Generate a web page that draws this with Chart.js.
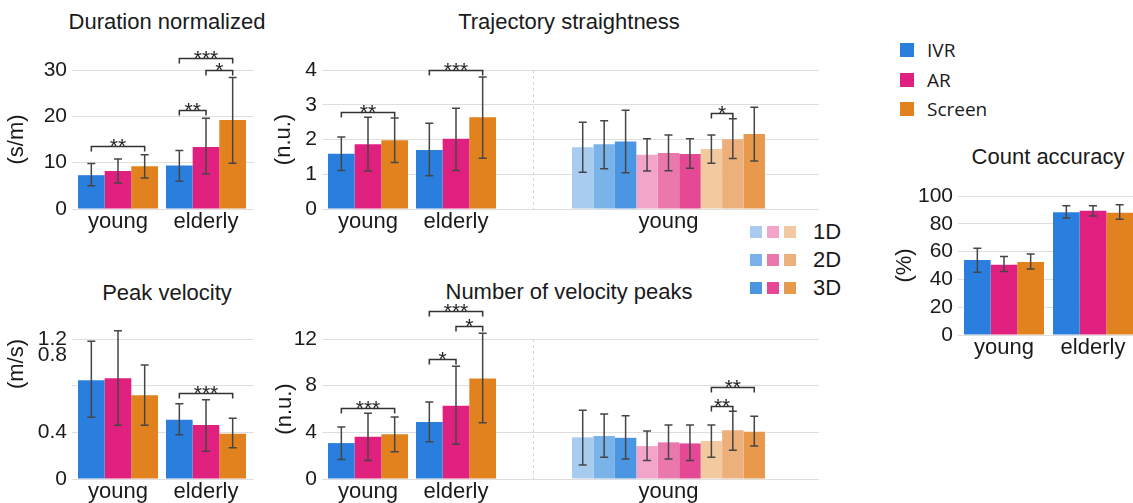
<!DOCTYPE html>
<html lang="en">
<head>
<meta charset="UTF-8">
<title>Movement metrics</title>
<script src="https://cdn.jsdelivr.net/npm/chart.js"></script>
<style>
  body { margin: 0; width: 1133px; height: 503px; overflow: hidden; background: #fff; position: relative;
         font-family: "Liberation Sans", Arial, sans-serif; color: #1a1a1a; }
  .box { position: absolute; }
  .title { position: absolute; font-size: 22px; transform: translate(-50%, -50%); white-space: nowrap; }
  .leg { position: absolute; font-family: "Open Sans", sans-serif; font-size: 19px; line-height: 26px; }
  .leg2 { position: absolute; font-size: 22px; line-height: 26px; }
  .sw { position: absolute; }
</style>
</head>
<body>

<div class="title" style="left:167px;top:22px">Duration normalized</div>
<div class="title" style="left:569px;top:22px">Trajectory straightness</div>
<div class="title" style="left:1048px;top:157px">Count accuracy</div>
<div class="title" style="left:167px;top:293px">Peak velocity</div>
<div class="title" style="left:569px;top:292px">Number of velocity peaks</div>

<div id="legend1"></div>
<div id="legend2"></div>

<div class="box" id="c1"><canvas></canvas></div>
<div class="box" id="c2a"><canvas></canvas></div>
<div class="box" id="c2b"><canvas></canvas></div>
<div class="box" id="c3"><canvas></canvas></div>
<div class="box" id="c4"><canvas></canvas></div>
<div class="box" id="c5a"><canvas></canvas></div>
<div class="box" id="c5b"><canvas></canvas></div>

<script>
const groups = ['young', 'elderly'];
const conditions = ['IVR', 'AR', 'Screen'];
const dimLabels = ['1D', '2D', '3D'];

const condColors = ['#2a7fde', '#e0207f', '#e2821f'];
const dimColors = [
    ['#a8ccf0', '#7ab2ea', '#4b96e3'],
    ['#f2a5c8', '#eb78ad', '#e54894'],
    ['#f3c9a0', '#edb07b', '#e8994c']
];

// rows: IVR, AR, Screen / columns: young, elderly
const durMean = [[7.3, 9.4], [8.2, 13.4], [9.2, 19.2]];
const durLow = [[5.0, 6.0], [5.6, 7.6], [6.7, 9.9]];
const durHigh = [[9.8, 12.6], [10.8, 19.6], [11.7, 28.4]];
// [from, to, group, height, stars]
const durSig = [[0, 2, 0, 13.7, '**'], [0, 1, 1, 21.4, '**'], [0, 2, 1, 32.5, '***'], [1, 2, 1, 30, '*']];

const trajMean = [[1.59, 1.70], [1.86, 2.02], [1.98, 2.64]];
const trajLow = [[1.11, 0.96], [1.09, 1.11], [1.34, 1.46]];
const trajHigh = [[2.07, 2.47], [2.64, 2.90], [2.62, 3.80]];
const trajSig = [[0, 2, 0, 2.80, '**'], [0, 2, 1, 4.0, '***']];

// young only, IVR 1D/2D/3D, AR 1D/2D/3D, Screen 1D/2D/3D
const trajDimMean = [1.78, 1.86, 1.94, 1.56, 1.61, 1.58, 1.73, 2.01, 2.16];
const trajDimLow = [1.06, 1.16, 1.04, 1.09, 1.10, 1.17, 1.32, 1.45, 1.38];
const trajDimHigh = [2.50, 2.54, 2.84, 2.02, 2.13, 2.02, 2.13, 2.60, 2.93];
const trajDimSig = [[6, 7, 0, 2.77, '*']];

const accMean = [[53.9, 88.3], [50.6, 89.4], [52.6, 88.0]];
const accLow = [[45.1, 84.1], [45.6, 85.6], [47.4, 83.2]];
const accHigh = [[62.4, 93.0], [56.4, 93.0], [58.2, 93.7]];

const velMean = [[0.846, 0.508], [0.863, 0.463], [0.717, 0.388]];
const velLow = [[0.53, 0.38], [0.46, 0.237], [0.46, 0.268]];
const velHigh = [[1.18, 0.645], [1.27, 0.68], [0.977, 0.52]];
const velSig = [[0, 2, 1, 0.734, '***']];

const pkMean = [[3.08, 4.89], [3.62, 6.27], [3.83, 8.62]];
const pkLow = [[1.67, 3.19], [1.59, 2.97], [2.33, 4.83]];
const pkHigh = [[4.46, 6.59], [5.64, 9.66], [5.32, 12.5]];
const pkSig = [[0, 2, 0, 6.09, '***'], [0, 1, 1, 10.3, '*'], [0, 2, 1, 14.4, '***'], [1, 2, 1, 13.1, '*']];

const pkDimMean = [3.57, 3.68, 3.53, 2.82, 3.14, 3.05, 3.25, 4.17, 4.05];
const pkDimLow = [1.21, 1.87, 1.72, 1.59, 1.72, 1.59, 1.87, 2.47, 2.82];
const pkDimHigh = [5.9, 5.58, 5.43, 4.11, 4.63, 4.63, 4.63, 5.81, 5.38];
const pkDimSig = [[6, 7, 0, 6.24, '**'], [6, 8, 0, 7.88, '**']];

Chart.defaults.font.family = '"Liberation Sans", Arial, sans-serif';
Chart.defaults.color = '#1a1a1a';

const XH = 24;  // x axis height

// legends
const leg1 = document.getElementById('legend1');
conditions.forEach((c, i) => {
    const cy = [50, 80, 109][i];
    leg1.innerHTML += `<div class="sw" style="left:900px;top:${cy - 7}px;width:14px;height:14px;background:${condColors[i]}"></div>` +
        `<div class="leg" style="left:927px;top:${cy - 13}px">${c}</div>`;
});
const leg2 = document.getElementById('legend2');
dimLabels.forEach((d, k) => {
    const cy = [232, 260, 288][k];
    [750, 767, 784].forEach((x, i) => {
        leg2.innerHTML += `<div class="sw" style="left:${x}px;top:${cy - 6}px;width:12px;height:12px;background:${dimColors[i][k]}"></div>`;
    });
    leg2.innerHTML += `<div class="leg2" style="left:813px;top:${cy - 13}px">${d}</div>`;
});

// error bars from dataset.lo / dataset.hi
const errorBars = {
    id: 'errorBars',
    afterDatasetsDraw(chart) {
        const ctx = chart.ctx, y = chart.scales.y;
        ctx.save();
        ctx.strokeStyle = '#454545';
        ctx.lineWidth = 1.5;
        chart.data.datasets.forEach((ds, i) => {
            chart.getDatasetMeta(i).data.forEach((bar, j) => {
                const lo = y.getPixelForValue(ds.lo[j]);
                const hi = y.getPixelForValue(ds.hi[j]);
                ctx.beginPath();
                ctx.moveTo(bar.x, lo); ctx.lineTo(bar.x, hi);
                ctx.moveTo(bar.x - 4, lo); ctx.lineTo(bar.x + 4, lo);
                ctx.moveTo(bar.x - 4, hi); ctx.lineTo(bar.x + 4, hi);
                ctx.stroke();
            });
        });
        ctx.restore();
    }
};

// significance brackets
function brackets(list) {
    return {
        id: 'brackets',
        afterDatasetsDraw(chart) {
            const ctx = chart.ctx, y = chart.scales.y;
            ctx.save();
            ctx.strokeStyle = '#333';
            ctx.lineWidth = 1.5;
            ctx.fillStyle = '#222';
            ctx.font = '21px "Liberation Sans", Arial, sans-serif';
            ctx.textAlign = 'center';
            ctx.textBaseline = 'alphabetic';
            list.forEach(([a, b, g, v, stars]) => {
                const x1 = chart.getDatasetMeta(a).data[g].x;
                const x2 = chart.getDatasetMeta(b).data[g].x;
                const py = Math.round(y.getPixelForValue(v)) + 0.5;
                ctx.beginPath();
                ctx.moveTo(x1, py + 5); ctx.lineTo(x1, py); ctx.lineTo(x2, py); ctx.lineTo(x2, py + 5);
                ctx.stroke();
                ctx.fillText(stars, (x1 + x2) / 2, py + 6);
            });
            ctx.restore();
        }
    };
}

// dashed separator on the left edge of the 1D/2D/3D sub-plots
const separator = {
    id: 'separator',
    beforeDatasetsDraw(chart) {
        const {ctx, chartArea: a} = chart;
        ctx.save();
        ctx.strokeStyle = '#d4d4d4';
        ctx.lineWidth = 1;
        ctx.setLineDash([3, 3]);
        ctx.beginPath();
        ctx.moveTo(a.left + 0.5, a.top);
        ctx.lineTo(a.left + 0.5, a.bottom);
        ctx.stroke();
        ctx.restore();
    }
};

function condSets(mean, low, high) {
    return conditions.map((c, i) => ({
        label: c,
        data: groups.map((g, k) => ({x: k, y: mean[i][k]})),
        lo: low[i], hi: high[i],
        backgroundColor: condColors[i]
    }));
}

function dimSets(mean, low, high) {
    return mean.map((m, i) => ({
        label: conditions[Math.floor(i / 3)] + ' ' + dimLabels[i % 3],
        data: [{x: 0, y: m}],
        lo: [low[i]], hi: [high[i]],
        backgroundColor: dimColors[Math.floor(i / 3)][i % 3]
    }));
}

// box = canvas [x, y, w, h]; area = plot [left, top, right, bottom]; yw = y axis width
function barChart(id, box, area, yw, datasets, cfg) {
    const d = document.getElementById(id);
    d.style.left = box[0] + 'px';
    d.style.top = box[1] + 'px';
    d.style.width = box[2] + 'px';
    d.style.height = box[3] + 'px';

    const xmin = -(cfg.firstCenter - area[0]) / cfg.unit;
    datasets.forEach(ds => {
        ds.categoryPercentage = cfg.groupW / cfg.unit;
        ds.barPercentage = 1;
        ds.borderWidth = 0;
    });
    const showY = yw > 0;
    const extra = [errorBars, brackets(cfg.sig || [])];
    if (!showY) extra.push(separator);

    return new Chart(d.querySelector('canvas'), {
        type: 'bar',
        data: {datasets},
        options: {
            responsive: true,
            maintainAspectRatio: false,
            animation: false,
            layout: {
                padding: {
                    left: area[0] - box[0] - yw,
                    top: area[1] - box[1],
                    right: box[0] + box[2] - area[2],
                    bottom: box[1] + box[3] - area[3] - XH
                }
            },
            plugins: {legend: {display: false}, tooltip: {enabled: false}},
            scales: {
                x: {
                    type: 'linear',
                    offset: false,
                    min: xmin,
                    max: xmin + (area[2] - area[0]) / cfg.unit,
                    grid: {display: false, drawTicks: false},
                    border: {display: false},
                    afterBuildTicks: a => { a.ticks = cfg.labels.map((l, k) => ({value: k})); },
                    afterFit: a => { a.height = XH; a.paddingLeft = 0; a.paddingRight = 0; },
                    ticks: {
                        callback: v => cfg.labels[v],
                        font: {size: 22},
                        padding: 0,
                        maxRotation: 0,
                        autoSkip: false
                    }
                },
                y: {
                    min: cfg.ymin,
                    max: cfg.ymax,
                    grid: {color: '#dedede', drawTicks: showY, tickLength: 6},
                    border: {display: false},
                    ticks: {
                        display: showY,
                        stepSize: cfg.step,
                        padding: 5,
                        autoSkip: false,
                        font: {size: 21, lineHeight: 0.75},
                        callback: cfg.tickCb || (v => v)
                    },
                    title: {
                        display: !!cfg.ytitle,
                        text: cfg.ytitle,
                        align: cfg.yalign || 'center',
                        font: {size: 22},
                        padding: {top: 4, bottom: 0}
                    },
                    afterFit: a => { a.width = yw; a.paddingTop = 0; a.paddingBottom = 0; }
                }
            }
        },
        plugins: extra
    });
}

const leftCfg = {unit: 88, groupW: 80, labels: groups};
const rightCfg = {unit: 286, groupW: 193, labels: ['young'], firstCenter: 668.5};

// Duration normalized
barChart('c1', [0, 30, 262, 207], [78, 70, 254, 209], 78, condSets(durMean, durLow, durHigh),
    {...leftCfg, firstCenter: 118, ymin: 0, ymax: 30, step: 10, ytitle: '(s/m)', sig: durSig});

// Trajectory straightness
barChart('c2a', [267, 30, 266, 207], [328, 70, 533, 209], 61, condSets(trajMean, trajLow, trajHigh),
    {...leftCfg, firstCenter: 368, ymin: 0, ymax: 4, step: 1, ytitle: '(n.u.)', sig: trajSig});
barChart('c2b', [533, 30, 292, 207], [533, 70, 819, 209], 0, dimSets(trajDimMean, trajDimLow, trajDimHigh),
    {...rightCfg, ymin: 0, ymax: 4, step: 1, sig: trajDimSig});

// Count accuracy
barChart('c3', [888, 180, 245, 183], [964, 196, 1133, 335], 76, condSets(accMean, accLow, accHigh),
    {unit: 89, groupW: 80, labels: groups, firstCenter: 1004, ymin: 0, ymax: 100, step: 20, ytitle: '(%)'});

// Peak velocity (the 0.8 label sits just under 1.2, as in the source figure)
barChart('c4', [0, 300, 262, 207], [78, 339, 254, 479], 78, condSets(velMean, velLow, velHigh),
    {...leftCfg, firstCenter: 118, ymin: 0, ymax: 1.2, step: 0.4, ytitle: '(m/s)', yalign: 'end', sig: velSig,
     tickCb: v => Math.abs(v - 1.2) < 1e-6 ? ['', '1.2', '0.8'] : (Math.abs(v - 0.8) < 1e-6 ? '' : +v.toFixed(1))});

// Number of velocity peaks
barChart('c5a', [268, 290, 265, 217], [328, 339, 533, 479], 60, condSets(pkMean, pkLow, pkHigh),
    {...leftCfg, firstCenter: 368, ymin: 0, ymax: 12, step: 4, ytitle: '(n.u.)', sig: pkSig});
barChart('c5b', [533, 290, 292, 217], [533, 339, 819, 479], 0, dimSets(pkDimMean, pkDimLow, pkDimHigh),
    {...rightCfg, ymin: 0, ymax: 12, step: 4, sig: pkDimSig});
</script>
</body>
</html>
